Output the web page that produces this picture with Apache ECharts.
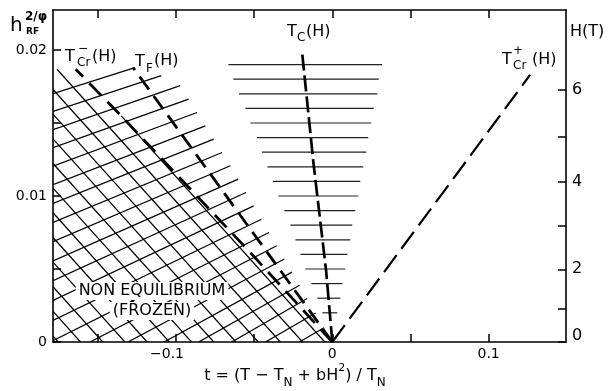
<!DOCTYPE html>
<html><head><meta charset="utf-8">
<script src="https://cdn.jsdelivr.net/npm/echarts@6/dist/echarts.min.js"></script>
<style>html,body{margin:0;padding:0;background:#fff}#c{width:613px;height:391px}</style>
</head><body><div id="c"></div>
<script>
// ---- axes ----
const tMin = -0.1787, tMax = 0.1495;
const hMin = 0, hMax = 0.02274;
const tTicks = [-0.15, -0.1, -0.05, 0, 0.05, 0.1];
const tLabels = [-0.1, 0, 0.1];
const hTicks = [0, 0.005, 0.01, 0.015, 0.02];
const hLabels = [0, 0.01, 0.02];
// right axis H(T): field values and where they sit on the h scale
const fieldTicks = [0, 1, 2, 3, 4, 5, 6];
const fieldTickPos = [0, 0.00229, 0.00498, 0.00795, 0.01097, 0.01406, 0.01726];
const fieldLabels = [0, 2, 4, 6];

// ---- phase boundaries [t, h] ----
const tcCurve = [[0, 0], [-0.0040, 0.0049], [-0.0119, 0.0121], [-0.0194, 0.0199]];
const tfCurve = [[0, 0], [-0.1275, 0.0188]];
const tcrMinus = [[0, 0], [-0.0537, 0.00627], [-0.1367, 0.01567], [-0.1642, 0.01868]];
const tcrPlus = [[0, 0], [0.1265, 0.01829]];

// ---- horizontal lines around Tc(H) ----
const rowH = [0.019, 0.018, 0.017, 0.016, 0.015, 0.014, 0.013, 0.012, 0.011, 0.010, 0.009, 0.008, 0.007, 0.006, 0.005, 0.004, 0.003, 0.002];
const rowLeft = [-0.0665, -0.0633, -0.0597, -0.0556, -0.0524, -0.0482, -0.0450, -0.0415, -0.0380, -0.0345, -0.0307, -0.0268, -0.0236, -0.0204, -0.0173, -0.0134, -0.0096, -0.0064];
const rowRight = [0.0319, 0.0297, 0.0288, 0.0265, 0.0249, 0.0230, 0.0217, 0.0198, 0.0179, 0.0166, 0.0147, 0.0128, 0.0115, 0.0096, 0.0083, 0.0064, 0.0051, 0.0032];

// ---- hatched regions ----
const singleEdge = [[0, 0], [-0.0643, 0.01192], [-0.0996, 0.01795], [-0.1275, 0.0188]];
const singleTopLeftH = 0.01705;

const FONT = 'DejaVu Sans';
const crossRegion = [[tMin, 0]].concat(tcrMinus, [[tMin, tcrMinus[tcrMinus.length - 1][1]]]);
const singleRegion = [[tMin, 0]].concat(singleEdge, [[tMin, singleTopLeftH]]);

function clipLine(p, d, poly) {
  const ts = [];
  for (let i = 0; i < poly.length; i++) {
    const a = poly[i], b = poly[(i + 1) % poly.length];
    const e = [b[0] - a[0], b[1] - a[1]];
    const den = d[0] * e[1] - d[1] * e[0];
    if (Math.abs(den) < 1e-9) continue;
    const w = [a[0] - p[0], a[1] - p[1]];
    const t = (w[0] * e[1] - w[1] * e[0]) / den;
    const u = (w[0] * d[1] - w[1] * d[0]) / den;
    if (u >= 0 && u < 1) ts.push(t);
  }
  ts.sort((x, y) => x - y);
  const segs = [];
  for (let i = 0; i + 1 < ts.length; i += 2) {
    segs.push([[p[0] + d[0] * ts[i], p[1] + d[1] * ts[i]], [p[0] + d[0] * ts[i + 1], p[1] + d[1] * ts[i + 1]]]);
  }
  return segs;
}
function segEls(list) {
  return list.map(s => ({type: 'line', shape: {x1: s[0][0], y1: s[0][1], x2: s[1][0], y2: s[1][1]},
    style: {stroke: '#000', lineWidth: 1.25}}));
}
// "\" lines inside the frozen region
function renderCross(params, api) {
  const poly = crossRegion.map(p => api.coord(p));
  const phi = 48 * Math.PI / 180, s = 16.5;
  const d = [Math.cos(phi), Math.sin(phi)], n = [Math.sin(phi), -Math.cos(phi)];
  const p0 = [poly[poly.length - 1][0] + 4, poly[poly.length - 1][1]];
  let segs = [];
  for (let k = -30; k <= 8; k++) {
    segs = segs.concat(clipLine([p0[0] + k * s * n[0], p0[1] + k * s * n[1]], d, poly));
  }
  return {type: 'group', children: segEls(segs)};
}
// "/" lines reaching past T_F
function renderSingle(params, api) {
  const poly = singleRegion.map(p => api.coord(p));
  const p0 = poly[poly.length - 1], top = poly[poly.length - 2];
  const th0 = Math.atan2(p0[1] - top[1], top[0] - p0[0]);
  const thBot = 30 * Math.PI / 180, thm = 24 * Math.PI / 180, s = 17;
  const n = [Math.sin(thm), Math.cos(thm)];
  let segs = [];
  for (let i = 0; i <= 30; i++) {
    const th = th0 + (thBot - th0) * Math.min(1, i / 18);
    const off = 0.6 + i * s;
    segs = segs.concat(clipLine([p0[0] + off * n[0], p0[1] + off * n[1]], [Math.cos(th), -Math.sin(th)], poly));
  }
  return {type: 'group', children: segEls(segs)};
}
function renderRow(params, api) {
  const a = api.coord([api.value(0), api.value(2)]);
  const b = api.coord([api.value(1), api.value(2)]);
  return {type: 'line', shape: {x1: a[0], y1: a[1], x2: b[0], y2: b[1]}, style: {stroke: '#222', lineWidth: 1.2}};
}
function fieldOf(v) {
  let best = 0, bd = 1e9;
  fieldTickPos.forEach((p, i) => { const dd = Math.abs(p - v); if (dd < bd) { bd = dd; best = i; } });
  return fieldTicks[best];
}
const fieldLabelPos = fieldLabels.map(H => fieldTickPos[fieldTicks.indexOf(H)]);

const axisLine = {onZero: false, lineStyle: {color: '#000', width: 1.6}};
const tickStyle = {color: '#000', width: 1.5};
const lbl = {color: '#000', fontFamily: FONT, fontSize: 14};

const chart = echarts.init(document.getElementById('c'));
chart.setOption({
  animation: false,
  backgroundColor: '#fff',
  grid: {left: 53, right: 47, top: 10, bottom: 49},
  xAxis: [
    {type: 'value', position: 'bottom', min: tMin, max: tMax, splitLine: {show: false}, axisLine,
     axisTick: {inside: true, length: 8, customValues: tTicks, lineStyle: tickStyle},
     axisLabel: Object.assign({}, lbl, {customValues: tLabels, margin: 5,
       formatter: v => v === 0 ? '0' : (v < 0 ? '{neg|\u2212' + Math.abs(v) + '}' : String(v)),
       rich: {neg: Object.assign({}, lbl, {padding: [0, 18, 0, 0]})}})},
    {type: 'value', position: 'top', min: tMin, max: tMax, splitLine: {show: false}, axisLine,
     axisTick: {inside: true, length: 8, customValues: tTicks, lineStyle: tickStyle},
     axisLabel: {show: false}}
  ],
  yAxis: [
    {type: 'value', position: 'left', min: hMin, max: hMax, splitLine: {show: false}, axisLine,
     axisTick: {inside: true, length: 8, customValues: hTicks, lineStyle: tickStyle},
     axisLabel: Object.assign({}, lbl, {customValues: hLabels, margin: 6, formatter: v => v === 0 ? '0' : String(v)})},
    {type: 'value', position: 'right', min: hMin, max: hMax, splitLine: {show: false}, axisLine,
     axisTick: {inside: true, length: 8, customValues: fieldTickPos, lineStyle: tickStyle},
     axisLabel: Object.assign({}, lbl, {fontSize: 16, customValues: fieldLabelPos, margin: 6,
       formatter: v => { const H = fieldOf(v); return H === 0 ? '{z|0}' : String(H); },
       rich: {z: Object.assign({}, lbl, {fontSize: 16, padding: [0, 0, 13, 0]})}})}
  ],
  series: [
    {type: 'custom', name: 'frozen-cross', clip: true, z: 1, data: [[tMin, 0]], renderItem: renderCross, silent: true},
    {type: 'custom', name: 'frozen-single', clip: true, z: 1, data: [[tMin, 0]], renderItem: renderSingle, silent: true},
    {type: 'custom', name: 'critical-rows', clip: true, z: 2, renderItem: renderRow, silent: true,
     encode: {x: [0, 1], y: 2}, data: rowH.map((h, i) => [rowLeft[i], rowRight[i], h])},
    {type: 'line', name: 'Tc', data: tcCurve, symbol: 'none', z: 3, lineStyle: {color: '#000', width: 2.7, type: [16, 5]}},
    {type: 'line', name: 'TF', data: tfCurve, symbol: 'none', z: 3, lineStyle: {color: '#000', width: 2.8, type: [16, 8]}},
    {type: 'line', name: 'Tcr-', data: tcrMinus, symbol: 'none', z: 3, lineStyle: {color: '#000', width: 2.8, type: [17, 9]}},
    {type: 'line', name: 'Tcr+', data: tcrPlus, symbol: 'none', z: 3, lineStyle: {color: '#000', width: 2.2, type: [21, 8]}}
  ],
  graphic: [
    // left axis name h_RF^{2/phi}
    {type: 'text', x: 10, y: 26, style: {text: 'h', font: '20px ' + FONT, fill: '#000', verticalAlign: 'middle'}},
    {type: 'text', x: 25, y: 17, style: {text: '2/\u03c6', font: 'bold 12px ' + FONT, fill: '#000', verticalAlign: 'middle'}},
    {type: 'text', x: 26, y: 32, style: {text: 'RF', font: 'bold 9px ' + FONT, fill: '#000', verticalAlign: 'middle'}},
    // right axis name
    {type: 'text', x: 570, y: 32, style: {text: 'H(T)', font: '16px ' + FONT, fill: '#000', verticalAlign: 'middle'}},
    // Tcr-(H)
    {type: 'text', x: 65, y: 57, style: {text: 'T', font: '16px ' + FONT, fill: '#000', verticalAlign: 'middle'}},
    {type: 'text', x: 78, y: 49, style: {text: '\u2212', font: '12px ' + FONT, fill: '#000', verticalAlign: 'middle'}},
    {type: 'text', x: 77, y: 63, style: {text: 'Cr', font: '12px ' + FONT, fill: '#000', verticalAlign: 'middle'}},
    {type: 'text', x: 92, y: 57, style: {text: '(H)', font: '16px ' + FONT, fill: '#000', verticalAlign: 'middle'}},
    // TF(H)
    {type: 'text', x: 135, y: 62, style: {text: 'T', font: '16px ' + FONT, fill: '#000', verticalAlign: 'middle'}},
    {type: 'text', x: 146, y: 69, style: {text: 'F', font: '12px ' + FONT, fill: '#000', verticalAlign: 'middle'}},
    {type: 'text', x: 154, y: 61, style: {text: '(H)', font: '16px ' + FONT, fill: '#000', verticalAlign: 'middle'}},
    // Tc(H)
    {type: 'text', x: 287, y: 32, style: {text: 'T', font: '16px ' + FONT, fill: '#000', verticalAlign: 'middle'}},
    {type: 'text', x: 297, y: 38, style: {text: 'C', font: '12px ' + FONT, fill: '#000', verticalAlign: 'middle'}},
    {type: 'text', x: 306, y: 32, style: {text: '(H)', font: '16px ' + FONT, fill: '#000', verticalAlign: 'middle'}},
    // Tcr+(H)
    {type: 'text', x: 502, y: 60, style: {text: 'T', font: '16px ' + FONT, fill: '#000', verticalAlign: 'middle'}},
    {type: 'text', x: 513, y: 51, style: {text: '+', font: '12px ' + FONT, fill: '#000', verticalAlign: 'middle'}},
    {type: 'text', x: 513, y: 66, style: {text: 'Cr', font: '12px ' + FONT, fill: '#000', verticalAlign: 'middle'}},
    {type: 'text', x: 532, y: 60, style: {text: '(H)', font: '16px ' + FONT, fill: '#000', verticalAlign: 'middle'}},
    // region label
    {type: 'text', x: 152, y: 291, z: 10, style: {text: 'NON EQUILIBRIUM', font: '16px ' + FONT, fill: '#000',
      align: 'center', verticalAlign: 'middle', backgroundColor: '#fff', padding: [1, 3]}},
    {type: 'text', x: 152, y: 311, z: 10, style: {text: '(FROZEN)', font: '16px ' + FONT, fill: '#000',
      align: 'center', verticalAlign: 'middle', backgroundColor: '#fff', padding: [1, 3]}},
    // x axis title
    {type: 'text', x: 295, y: 376, style: {
      text: 't = (T \u2212 T{s|N} + bH{p|2}) / T{s|N}', font: '16px ' + FONT, fill: '#000',
      align: 'center', verticalAlign: 'middle', lineHeight: 26,
      rich: {s: {fontSize: 12, fontFamily: FONT, verticalAlign: 'bottom', lineHeight: 26},
             p: {fontSize: 11, fontFamily: FONT, verticalAlign: 'top', lineHeight: 26}}}}
  ]
});
</script></body></html>
